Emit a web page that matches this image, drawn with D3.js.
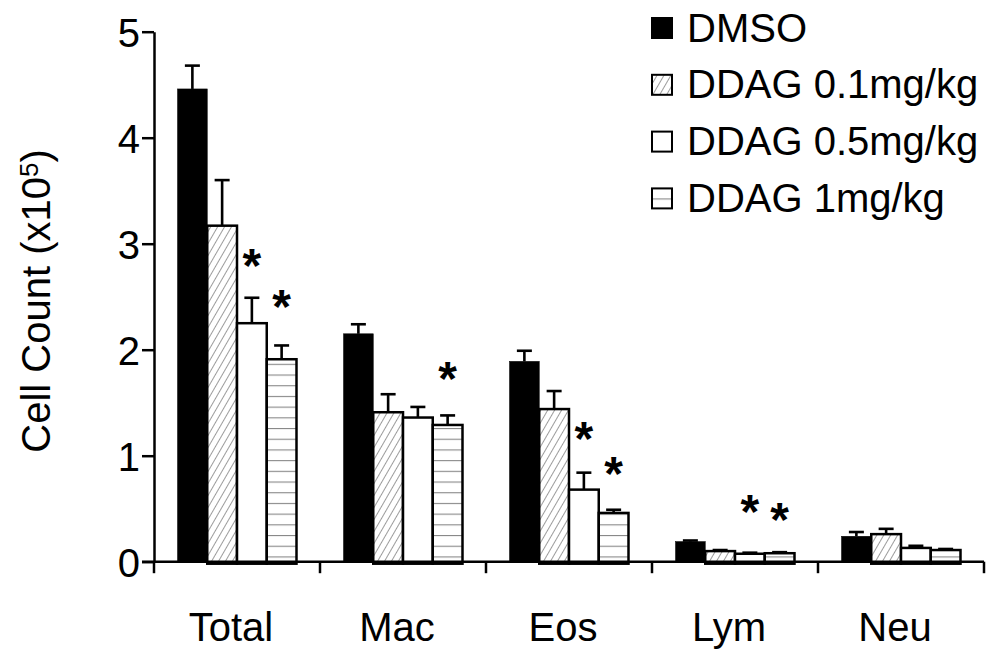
<!DOCTYPE html>
<html>
<head>
<meta charset="utf-8">
<script src="https://cdn.jsdelivr.net/npm/d3@7/dist/d3.min.js"></script>
<style>
  html, body { margin: 0; padding: 0; background: #fff; }
  svg { display: block; }
  text { font-family: "Liberation Sans", Arial, sans-serif; fill: #000; }
</style>
</head>
<body>
<svg id="chart" width="995" height="650"></svg>
<script>
// Cell types (x axis) and treatment groups (series)
const categories = ["Total", "Mac", "Eos", "Lym", "Neu"];
const seriesNames = ["DMSO", "DDAG 0.1mg/kg", "DDAG 0.5mg/kg", "DDAG 1mg/kg"];

// Mean cell counts (x10^5) per cell type
const dmso    = [4.46, 2.15, 1.89, 0.19, 0.24];
const ddag01  = [3.17, 1.41, 1.44, 0.10, 0.26];
const ddag05  = [2.25, 1.36, 0.68, 0.075, 0.13];
const ddag1   = [1.91, 1.29, 0.46, 0.08, 0.11];

// Upper error (SEM) per cell type
const dmsoErr   = [0.22, 0.09, 0.10, 0.01, 0.04];
const ddag01Err = [0.43, 0.17, 0.17, 0.01, 0.05];
const ddag05Err = [0.24, 0.10, 0.16, 0.01, 0.02];
const ddag1Err  = [0.13, 0.09, 0.03, 0.01, 0.01];

// Y axis ticks
const yTicks = [0, 1, 2, 3, 4, 5];

// Significance marks: cell type, series index, level (in axis units) of the star
const sigCats   = ["Total", "Total", "Mac", "Eos", "Eos", "Lym", "Lym"];
const sigSeries = [2, 3, 3, 2, 3, 2, 3];
const sigLevel  = [2.87, 2.49, 1.81, 1.24, 0.91, 0.55, 0.48];

const means = [dmso, ddag01, ddag05, ddag1];
const errs = [dmsoErr, ddag01Err, ddag05Err, ddag1Err];
const fills = ["#000", "url(#hatch)", "#fff", "url(#hstripe)"];

const svg = d3.select("#chart");
const fontSize = 40;

// Patterns for hatched and striped bars
const defs = svg.append("defs");
const hatch = defs.append("pattern")
  .attr("id", "hatch")
  .attr("patternUnits", "userSpaceOnUse")
  .attr("width", 6).attr("height", 6)
  .attr("patternTransform", "rotate(30)");
hatch.append("rect").attr("width", 6).attr("height", 6).attr("fill", "#fff");
hatch.append("line").attr("x1", 0).attr("y1", 0).attr("x2", 0).attr("y2", 6)
  .attr("stroke", "#666").attr("stroke-width", 1.3);

const stripe = defs.append("pattern")
  .attr("id", "hstripe")
  .attr("patternUnits", "userSpaceOnUse")
  .attr("width", 10).attr("height", 10.7);
stripe.append("rect").attr("width", 10).attr("height", 10.7).attr("fill", "#fff");
stripe.append("line").attr("x1", 0).attr("y1", 0.5).attr("x2", 10).attr("y2", 0.5)
  .attr("stroke", "#888").attr("stroke-width", 1.2);

// Scales
const x0 = d3.scaleBand().domain(categories).range([154, 984]).paddingInner(0).paddingOuter(0);
const x1 = d3.scaleBand().domain(d3.range(seriesNames.length))
  .range([0, x0.bandwidth()]).paddingInner(0).paddingOuter(0.79);
const y = d3.scaleLinear().domain([0, 5]).range([561.7, 31.7]);

// Bars
const groups = svg.append("g").selectAll("g")
  .data(categories)
  .join("g")
  .attr("transform", d => `translate(${x0(d)},0)`);

const barData = (c, ci) => means.map((arr, si) => ({ si, v: arr[ci], e: errs[si][ci] }));

groups.each(function (c, ci) {
  const g = d3.select(this);
  const bars = barData(c, ci);

  // error bars (upper only), drawn behind the bars
  const eb = g.selectAll("g.err").data(bars).join("g").attr("class", "err");
  eb.append("line")
    .attr("x1", d => x1(d.si) + x1.bandwidth() / 2)
    .attr("x2", d => x1(d.si) + x1.bandwidth() / 2)
    .attr("y1", d => y(d.v))
    .attr("y2", d => y(d.v + d.e))
    .attr("stroke", "#000").attr("stroke-width", 2.6);
  eb.append("line")
    .attr("x1", d => x1(d.si) + x1.bandwidth() / 2 - 7.5)
    .attr("x2", d => x1(d.si) + x1.bandwidth() / 2 + 7.5)
    .attr("y1", d => y(d.v + d.e))
    .attr("y2", d => y(d.v + d.e))
    .attr("stroke", "#000").attr("stroke-width", 2.6);

  g.selectAll("rect.bar").data(bars).join("rect")
    .attr("class", "bar")
    .attr("x", d => x1(d.si))
    .attr("width", x1.bandwidth())
    .attr("y", d => y(d.v))
    .attr("height", d => y(0) - y(d.v) + (d.si === 0 ? 0 : 2))
    .attr("fill", d => fills[d.si])
    .attr("stroke", "#000")
    .attr("stroke-width", d => d.si === 0 ? 0.5 : 2.5);
});

// Y axis
const yAxis = d3.axisLeft(y).tickValues(yTicks).tickSize(12).tickSizeOuter(0).tickPadding(2)
  .tickFormat(d3.format("d"));
const yg = svg.append("g").attr("transform", "translate(154,0)").call(yAxis);
yg.select(".domain").attr("stroke", "#000").attr("stroke-width", 2.5);
yg.selectAll(".tick line").attr("stroke", "#000").attr("stroke-width", 2.5);
yg.selectAll(".tick text")
  .attr("font-size", fontSize)
  .attr("font-family", "Liberation Sans, Arial, sans-serif")
  .attr("dy", "0.36em");

// X axis line with ticks at category boundaries
const xg = svg.append("g");
xg.append("line")
  .attr("x1", 142).attr("x2", x0.range()[1])
  .attr("y1", y(0)).attr("y2", y(0))
  .attr("stroke", "#000").attr("stroke-width", 2.5);
const bounds = categories.map(c => x0(c)).concat([x0.range()[1]]);
xg.selectAll("line.xt").data(bounds).join("line")
  .attr("class", "xt")
  .attr("x1", d => d).attr("x2", d => d)
  .attr("y1", y(0)).attr("y2", y(0) + 11.5)
  .attr("stroke", "#000").attr("stroke-width", 2.5);
xg.selectAll("text.xl").data(categories).join("text")
  .attr("class", "xl")
  .attr("x", d => x0(d) + x0.bandwidth() / 2 - 6)
  .attr("y", 640.7)
  .attr("text-anchor", "middle")
  .attr("font-size", fontSize)
  .text(d => d);

// Y axis title
const yt = svg.append("text")
  .attr("transform", "translate(50,301) rotate(-90)")
  .attr("text-anchor", "middle")
  .attr("font-size", fontSize);
yt.append("tspan").text("Cell Count (x10");
yt.append("tspan").attr("font-size", 26).attr("dy", -12).text("5");
yt.append("tspan").attr("dy", 12).text(")");

// Significance stars
svg.append("g").selectAll("text")
  .data(sigCats.map((c, i) => ({ c, s: sigSeries[i], v: sigLevel[i] })))
  .join("text")
  .attr("x", d => x0(d.c) + x1(d.s) + x1.bandwidth() / 2)
  .attr("y", d => y(d.v))
  .attr("dy", "0.52em")
  .attr("text-anchor", "middle")
  .attr("font-size", 48)
  .attr("font-weight", "bold")
  .text("*");

// Legend
const legend = svg.append("g").selectAll("g")
  .data(seriesNames)
  .join("g")
  .attr("transform", (d, i) => `translate(651,${28 + i * 56.8})`);
legend.append("rect")
  .attr("x", (d, i) => i === 0 ? 0 : 1)
  .attr("y", (d, i) => i === 0 ? -11 : -10)
  .attr("width", (d, i) => i === 0 ? 22 : 20)
  .attr("height", (d, i) => i === 0 ? 22 : 20)
  .attr("fill", (d, i) => fills[i])
  .attr("stroke", "#000")
  .attr("stroke-width", (d, i) => i === 0 ? 0 : 2);
legend.append("text")
  .attr("x", 36)
  .attr("y", 13.5)
  .attr("font-size", fontSize)
  .text(d => d);
</script>
</body>
</html>
